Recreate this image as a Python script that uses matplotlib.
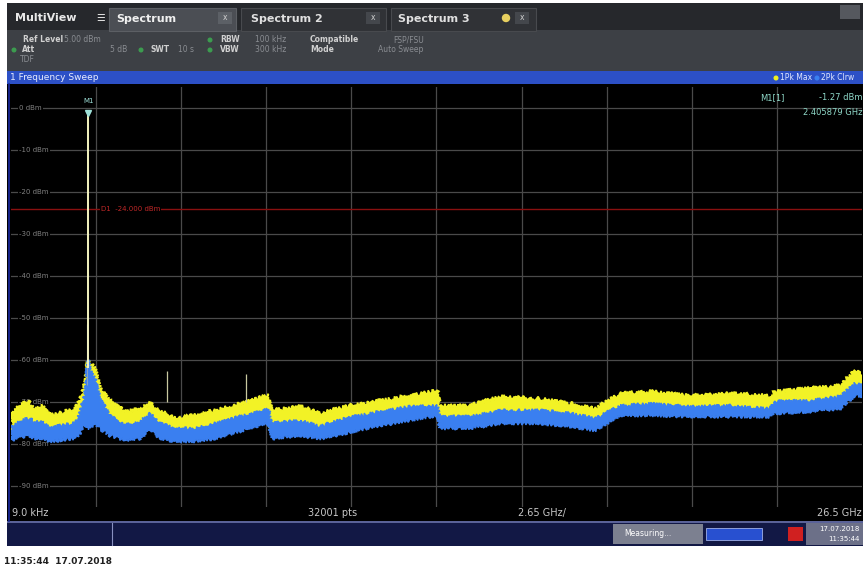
import matplotlib
matplotlib.use("Agg")
import matplotlib.pyplot as plt
from matplotlib.patches import Rectangle, Circle

W, H = 863, 572

# trace envelopes (GHz / dBm): trace 1 = Pk Max (yellow), trace 2 = Pk Clrw (blue)
freq_ghz = [0.03, 0.50, 0.75, 0.97, 1.21, 1.53, 1.99, 2.15, 2.30, 2.40, 2.50, 2.62,
            2.77, 3.08, 3.55, 4.02, 4.33, 4.64, 5.11, 5.73, 6.35, 7.13, 7.91, 8.03,
            8.10, 9.00, 9.62, 10.40, 11.49, 12.42, 13.27, 13.36, 14.29, 15.23, 16.47,
            17.41, 18.19, 18.96, 19.90, 21.14, 22.39, 23.63, 23.80, 24.88, 25.82,
            26.28, 26.50]
max_top = [-72.3, -69.7, -71.6, -70.9, -73.2, -72.7, -71.6, -69.9, -65.6, -60.5, -60.9, -62.1,
           -66.8, -69.7, -72.3, -71.6, -70.4, -72.0, -73.9, -73.2, -72.0, -70.4, -68.7, -68.5,
           -72.0, -71.1, -72.7, -71.1, -69.7, -68.5, -67.3, -70.9, -70.9, -68.7, -69.2,
           -70.4, -71.6, -68.0, -67.5, -68.5, -68.0, -68.5, -67.5, -66.8, -66.1,
           -62.6, -63.3]
clrw_top = [-75.6, -73.9, -74.6, -74.6, -76.3, -75.6, -75.1, -72.7, -68.0, -60.0, -63.0, -64.5,
            -69.2, -73.2, -75.6, -74.6, -72.7, -75.1, -76.3, -76.3, -75.1, -73.5, -72.0, -71.6,
            -75.1, -74.4, -75.8, -73.9, -72.3, -71.1, -70.9, -73.5, -73.5, -72.0, -72.0,
            -72.7, -73.9, -70.9, -70.4, -71.1, -70.9, -71.6, -69.9, -69.7, -68.7,
            -65.6, -65.9]
clrw_bottom = [-79.1, -78.0, -78.7, -78.7, -79.4, -79.1, -78.7, -77.5, -75.1, -76.3, -76.0, -75.1,
               -76.3, -78.0, -79.1, -78.7, -76.3, -78.7, -79.4, -79.4, -78.7, -77.0, -75.1, -75.1,
               -78.7, -78.0, -78.7, -77.5, -75.6, -74.4, -73.2, -76.3, -76.3, -75.1, -75.1,
               -75.8, -76.8, -73.2, -73.2, -73.5, -73.5, -73.5, -72.7, -72.3, -71.6,
               -68.5, -68.7]

spur_freq = [4.86, 7.32]
spur_level = [-62.6, -63.3]

marker_freq = 2.405879
marker_level = -1.27
clrw_peak_level = -51.5
display_line = -24.0
ref_level = 5.0

level_ticks = [0, -10, -20, -30, -40, -50, -60, -70, -80, -90]
level_labels = ["0 dBm", "-10 dBm", "-20 dBm", "-30 dBm", "-40 dBm",
                "-50 dBm", "-60 dBm", "-70 dBm", "-80 dBm", "-90 dBm"]
freq_ticks = [2.65 * i for i in range(11)]

fig = plt.figure(figsize=(W / 100, H / 100), dpi=100)
fig.patch.set_facecolor("white")

# instrument screen chrome, drawn in pixel coordinates
bg = fig.add_axes([0, 0, 1, 1])
bg.set_xlim(0, W)
bg.set_ylim(H, 0)
bg.axis("off")

def box(x, y, w, h, color, **kw):
    bg.add_patch(Rectangle((x, y), w, h, facecolor=color, edgecolor=kw.pop("ec", "none"),
                           lw=kw.pop("lw", 0), **kw))

def txt(x, y, s, **kw):
    kw.setdefault("va", "center")
    kw.setdefault("color", "#d8d8d8")
    bg.text(x, y, s, **kw)

box(7, 3, W - 7, 28, "#26282c")
box(7, 30, W - 7, 41, "#3d4045")
box(7, 71, W - 7, 14, "#2c50c6")
box(7, 84, W - 7, 438, "black")
box(7, 521, W - 7, 25, "#121845")
box(7, 521, W - 7, 1.5, "#5a6298")
bg.plot([9, 9], [84, 521], color="#1a2aa0", lw=1.2)

# tabs
txt(15, 18, "MultiView", fontsize=8, fontweight="bold", color="#e8e8e8")
txt(96, 18, "\u2630", fontsize=7, color="#e0e0e0")
box(109, 8, 127, 23, "#4b4e54", ec="#5c5f64", lw=0.8)
txt(116, 19, "Spectrum", fontsize=8, fontweight="bold", color="#f0f0f0")
box(218, 12, 14, 12, "#5c6066")
txt(225, 18, "x", fontsize=5.5, color="#d0d0d0", ha="center")
box(241, 8, 145, 23, "#303236", ec="#484a4e", lw=0.8)
txt(251, 19, "Spectrum 2", fontsize=8, fontweight="bold", color="#e0e0e0")
box(366, 12, 14, 12, "#44474c")
txt(373, 18, "x", fontsize=5.5, color="#d0d0d0", ha="center")
box(391, 8, 145, 23, "#303236", ec="#484a4e", lw=0.8)
txt(398, 19, "Spectrum 3", fontsize=8, fontweight="bold", color="#e0e0e0")
bg.add_patch(Circle((506, 18), 3.5, color="#e8d060"))
box(515, 12, 14, 12, "#44474c")
txt(522, 18, "x", fontsize=5.5, color="#d0d0d0", ha="center")
box(840, 5, 20, 14, "#55585e")

# setting panel
info = dict(fontsize=5.5)
txt(23, 40, "Ref Level", fontweight="bold", color="#d0d0d0", **info)
txt(64, 40, "5.00 dBm", color="#8a8d92", **info)
txt(22, 50, "Att", fontweight="bold", color="#d0d0d0", **info)
txt(110, 50, "5 dB", color="#8a8d92", **info)
txt(150, 50, "SWT", fontweight="bold", color="#d0d0d0", **info)
txt(178, 50, "10 s", color="#8a8d92", **info)
txt(220, 40, "RBW", fontweight="bold", color="#d0d0d0", **info)
txt(255, 40, "100 kHz", color="#8a8d92", **info)
txt(220, 50, "VBW", fontweight="bold", color="#d0d0d0", **info)
txt(255, 50, "300 kHz", color="#8a8d92", **info)
txt(310, 40, "Compatible", fontweight="bold", color="#d0d0d0", **info)
txt(310, 50, "Mode", fontweight="bold", color="#d0d0d0", **info)
txt(393, 40, "FSP/FSU", color="#8a8d92", **info)
txt(378, 50, "Auto Sweep", color="#8a8d92", **info)
txt(20, 60, "TDF", color="#8a8d92", **info)
for dx, dy in [(14, 50), (141, 50), (210, 40), (210, 50)]:
    bg.add_patch(Circle((dx, dy), 1.8, color="#3c9c50"))

# measurement window title
txt(10, 78, "1 Frequency Sweep", fontsize=6.5, color="#e8ecff")
bg.add_patch(Circle((776, 78), 1.8, color="#f0f020"))
txt(780, 78, "1Pk Max", fontsize=5.5, color="#dfe6ff")
bg.add_patch(Circle((817, 78), 1.8, color="#3a80f0"))
txt(821, 78, "2Pk Clrw", fontsize=5.5, color="#dfe6ff")

# frequency axis annotations
txt(12, 513, "9.0 kHz", fontsize=7, color="#c8c8c8")
txt(308, 513, "32001 pts", fontsize=7, color="#c8c8c8")
txt(518, 513, "2.65 GHz/", fontsize=7, color="#c8c8c8")
txt(862, 513, "26.5 GHz", fontsize=7, color="#c8c8c8", ha="right")

# status bar
bg.plot([112, 112], [523, 545], color="#8890c0", lw=0.8)
box(613, 524, 90, 20, "#7c8090")
txt(624, 534, "Measuring...", fontsize=5.5, color="white")
box(706, 528, 56, 12, "#2850d0", ec="#a0b0e8", lw=0.6)
box(788, 527, 15, 14, "#d02020")
box(806, 523, 57, 22, "#6c7088")
txt(860, 529, "17.07.2018", fontsize=5, color="white", ha="right")
txt(860, 539, "11:35:44", fontsize=5, color="white", ha="right")

txt(4, 562, "11:35:44  17.07.2018", fontsize=6.5, fontweight="bold", color="#202020")

# spectrum diagram
ax = fig.add_axes([11 / W, 1 - 507 / H, (862 - 11) / W, (507 - 87) / H])
ax.set_facecolor("black")
ax.set_xlim(0.000009, 26.5)
ax.set_ylim(-95, ref_level)
for s in ax.spines.values():
    s.set_visible(False)
ax.set_xticks([])
ax.set_yticks([])

for lv in level_ticks:
    ax.axhline(lv, color="#4a4a4a", lw=0.9, zorder=1)
for f in freq_ticks[1:-1]:
    ax.axvline(f, color="#4a4a4a", lw=0.9, zorder=1)

for lv, lab in zip(level_ticks, level_labels):
    ax.text(0.25, lv, lab, fontsize=5, color="#808080", va="center", ha="left",
            bbox=dict(facecolor="black", edgecolor="none", pad=1), zorder=2)

# display line
ax.axhline(display_line, color="#8a1010", lw=1.0, zorder=2)
ax.text(2.8, display_line, "D1  -24.000 dBm", fontsize=5, color="#c02828", va="center",
        bbox=dict(facecolor="black", edgecolor="none", pad=0.5), zorder=3)

# traces as polygons, with a rough edge for the noise floor;
# the yellow band stops inside the blue one so it stays hidden underneath
yel_floor = [b + 2.0 for b in clrw_bottom]
(yel,) = ax.fill(freq_ghz + freq_ghz[::-1], max_top + yel_floor[::-1],
                 facecolor="#f2f226", edgecolor="#f2f226", lw=1.2, zorder=4)
(blu,) = ax.fill(freq_ghz + freq_ghz[::-1], clrw_top + clrw_bottom[::-1],
                 facecolor="#3a7ff0", edgecolor="#3a7ff0", lw=1.0, zorder=5)
yel.set_sketch_params(scale=2.0, length=2.0, randomness=3)
blu.set_sketch_params(scale=1.6, length=2.0, randomness=3)
ax.vlines(marker_freq - 0.04, -66, clrw_peak_level, color="#8aa0c0", lw=0.8, zorder=5)
ax.vlines(marker_freq, -62, marker_level, color="#f4f4c0", lw=1.4, zorder=6)
ax.vlines(spur_freq, [-70, -70], spur_level, color="#c8c8a0", lw=0.9, zorder=6)

# marker
ax.plot(marker_freq, marker_level, marker="v", color="#9ee0d8", ms=4, zorder=7)
ax.text(marker_freq, marker_level + 2.2, "M1", fontsize=5, color="#9ee0d8",
        ha="center", va="bottom", zorder=7)
ax.text(0.895, 0.975, "M1[1]", transform=ax.transAxes, fontsize=6, color="#8fd8c8",
        ha="center", va="center")
ax.text(1.0, 0.975, "%.2f dBm" % marker_level, transform=ax.transAxes, fontsize=6,
        color="#8fd8c8", ha="right", va="center")
ax.text(1.0, 0.94, "%.6f GHz" % marker_freq, transform=ax.transAxes, fontsize=6,
        color="#8fd8c8", ha="right", va="center")

fig.savefig("out.png", dpi=100, facecolor=fig.get_facecolor())
